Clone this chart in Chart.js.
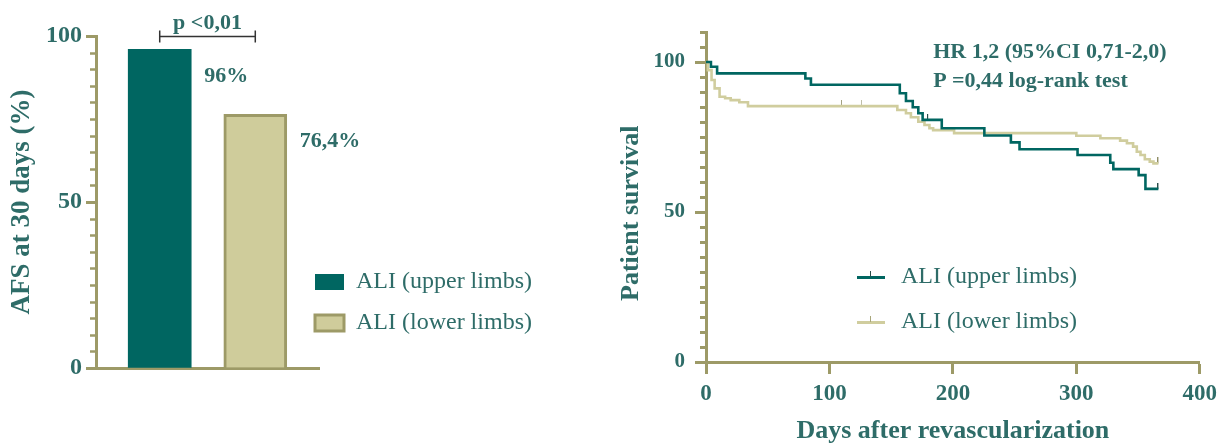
<!DOCTYPE html>
<html><head><meta charset="utf-8">
<script src="https://cdn.jsdelivr.net/npm/chart.js@4.4.1/dist/chart.umd.min.js"></script>
<style>
html,body{margin:0;padding:0;background:#fff;width:1223px;height:444px;overflow:hidden}
#left{position:absolute;left:0;top:0}
#right{position:absolute;left:600px;top:0}
</style></head><body>
<canvas id="left" width="600" height="444"></canvas>
<canvas id="right" width="623" height="444"></canvas>
<script>
// ---------- data ----------
const categories = ['ALI (upper limbs)', 'ALI (lower limbs)'];
const afsValues = [96, 76.4];
const afsLabels = ['96%', '76,4%'];
const pLabel = 'p <0,01';
const afsTicks = [0, 50, 100];

const upperDays = [0, 4, 9, 80.5, 85, 157, 162, 167.5, 172, 175.5, 191, 225.5, 247, 254, 301, 327.5, 330, 350.5, 356, 366.5];
const upperSurv = [100, 98.4, 96.2, 94.5, 92.4, 89.6, 87, 84.9, 82.9, 80.7, 77.9, 75.5, 73.2, 70.9, 69, 66.4, 64.3, 62.3, 57.7, 57.7];
const lowerDays = [0, 1.5, 4.5, 7, 11, 15.5, 20, 27, 34, 155, 162, 166, 172, 177, 181, 184, 201, 300, 319.5, 335.5, 341, 346, 349, 352, 355.5, 359.5, 362.5, 366.5];
const lowerSurv = [100, 97.3, 94, 91.2, 88.4, 87.9, 87.3, 86.6, 85.3, 84, 82.9, 81.6, 80.1, 79, 77.9, 77.3, 76.3, 75.4, 74.6, 73.8, 72.9, 71.8, 70.1, 69, 67.6, 66.8, 66.2, 66.2];
const upperCensorDays = [180, 366.5];
const upperCensorSurv = [80.7, 57.7];
const lowerCensorDays = [110, 126, 366.5];
const lowerCensorSurv = [85.3, 85.3, 66.2];
const survivalTicks = [0, 50, 100];
const dayTicks = [0, 100, 200, 300, 400];
const hrText = ['HR 1,2 (95%CI 0,71-2,0)', 'P =0,44 log-rank test'];

// ---------- style ----------
const TEAL = '#006661';
const TEXT = '#2e6c68';
const OLIVE = '#9d9a67';
const LIGHT = '#cfcc9b';
const LIGHTLINE = '#d0cd9e';
const FAM = '"Liberation Serif", "Times New Roman", serif';
Chart.defaults.font.family = FAM;

function makeTick(color) {
  const c = document.createElement('canvas');
  c.width = 2; c.height = 12;
  const g = c.getContext('2d');
  g.fillStyle = color; g.fillRect(0, 0, 1, 6);
  return c;
}
function makeLegendLine(color, tickColor) {
  const c = document.createElement('canvas');
  c.width = 28; c.height = 14;
  const g = c.getContext('2d');
  g.fillStyle = color; g.fillRect(0, 6, 28, 3);
  g.fillStyle = tickColor; g.fillRect(13, 1, 1, 6);
  return c;
}

const minorTicks = {
  id: 'minorTicks',
  afterDraw(chart, args, opts) {
    const s = chart.scales.y, ctx = chart.ctx;
    ctx.save();
    ctx.strokeStyle = OLIVE; ctx.lineWidth = opts.width;
    for (let v = s.min; v <= s.max + 1e-9; v += opts.step) {
      if (Math.abs(v % 50) < 1e-9) continue;
      const y = Math.round(s.getPixelForValue(v)) + 0.5;
      ctx.beginPath(); ctx.moveTo(s.right - opts.length, y); ctx.lineTo(s.right, y); ctx.stroke();
    }
    ctx.restore();
  }
};

const legendPlace = {
  id: 'legendPlace',
  afterLayout(chart, args, opts) {
    const lg = chart.legend; if (!lg) return;
    lg.left = opts.left; lg.top = opts.top;
    lg.right = opts.left + 330; lg.bottom = opts.top + 200;
  }
};

const barNotes = {
  id: 'barNotes',
  afterDatasetsDraw(chart) {
    const ctx = chart.ctx, y = chart.scales.y;
    ctx.save();
    ctx.font = 'bold 22px ' + FAM; ctx.fillStyle = TEXT;
    ctx.textBaseline = 'alphabetic'; ctx.textAlign = 'left';
    chart.data.datasets.forEach((ds, i) => {
      const bar = chart.getDatasetMeta(i).data[0];
      ctx.fillText(afsLabels[i], bar.x + bar.width / 2 + 13, bar.y + 33);
    });
    const b0 = chart.getDatasetMeta(0).data[0], b1 = chart.getDatasetMeta(1).data[0];
    const yb = Math.round(y.getPixelForValue(100)) + 0.5;
    ctx.strokeStyle = '#333'; ctx.lineWidth = 1.5;
    ctx.beginPath();
    ctx.moveTo(b0.x, yb); ctx.lineTo(b1.x, yb);
    ctx.moveTo(b0.x, yb - 6); ctx.lineTo(b0.x, yb + 6);
    ctx.moveTo(b1.x, yb - 6); ctx.lineTo(b1.x, yb + 6);
    ctx.stroke();
    ctx.textAlign = 'center';
    ctx.fillText(pLabel, (b0.x + b1.x) / 2, yb - 8);
    ctx.restore();
  }
};

const hrNote = {
  id: 'hrNote',
  afterDraw(chart) {
    const ctx = chart.ctx, x = chart.scales.x, y = chart.scales.y;
    ctx.save();
    ctx.font = 'bold 22px ' + FAM; ctx.fillStyle = TEXT;
    ctx.textAlign = 'left'; ctx.textBaseline = 'alphabetic';
    const x0 = x.getPixelForValue(184);
    ctx.fillText(hrText[0], x0, y.getPixelForValue(101.3));
    ctx.fillText(hrText[1], x0, y.getPixelForValue(91.7));
    ctx.restore();
  }
};

const slotX = [1, 2.5];

// ---------- left chart ----------
new Chart(document.getElementById('left'), {
  type: 'bar',
  data: {
    datasets: [
      { label: categories[0], data: [{ x: slotX[0], y: afsValues[0] }], backgroundColor: TEAL, borderColor: TEAL, borderWidth: 0, barThickness: 63 },
      { label: categories[1], data: [{ x: slotX[1], y: afsValues[1] }], backgroundColor: LIGHT, borderColor: OLIVE, borderWidth: 3, barThickness: 63 }
    ]
  },
  options: {
    responsive: false, animation: false, events: [],
    layout: { padding: { left: 0, top: 36, right: 281, bottom: 0 } },
    scales: {
      x: {
        type: 'linear', min: 0, max: 3.5, stacked: true, offset: false,
        grid: { display: false, offset: false },
        border: { display: true, color: OLIVE, width: 3 },
        ticks: { display: false },
        afterFit: s => { s.height = 76; }
      },
      y: {
        type: 'linear', min: 0, max: 100,
        afterBuildTicks: s => { s.ticks = afsTicks.map(v => ({ value: v })); },
        grid: { display: true, drawOnChartArea: false, drawTicks: true, tickLength: 10, tickWidth: 3, tickColor: OLIVE, color: OLIVE },
        border: { display: true, color: OLIVE, width: 3 },
        ticks: { color: TEXT, padding: 4, font: { size: 24, weight: 'bold' } },
        title: { display: true, text: 'AFS at 30 days (%)', color: TEXT, font: { size: 27, weight: 'bold', lineHeight: 1 }, padding: { top: 9, bottom: 0 } },
        afterFit: s => { s.width = 96; }
      }
    },
    plugins: {
      tooltip: { enabled: false },
      legend: {
        position: 'chartArea', align: 'start',
        labels: { boxWidth: 29, boxHeight: 16, padding: 17, color: TEXT, font: { size: 24 } }
      },
      legendPlace: { left: 298, top: 253 },
      minorTicks: { step: 5, length: 6, width: 2.5 }
    }
  },
  plugins: [legendPlace, minorTicks, barNotes]
});

// ---------- right chart ----------
const toXY = (d, s) => d.map((v, i) => ({ x: v, y: s[i] }));
new Chart(document.getElementById('right'), {
  type: 'line',
  data: {
    datasets: [
      { label: categories[0], data: toXY(upperDays, upperSurv), stepped: true, borderColor: TEAL, borderWidth: 2.6, pointRadius: 0, pointHoverRadius: 0, pointStyle: makeLegendLine(TEAL, '#2b4f4c'), fill: false, borderJoinStyle: 'miter' },
      { label: categories[1], data: toXY(lowerDays, lowerSurv), stepped: true, borderColor: LIGHTLINE, borderWidth: 2.6, pointRadius: 0, pointHoverRadius: 0, pointStyle: makeLegendLine(LIGHTLINE, '#a8a67a'), fill: false, borderJoinStyle: 'miter' },
      { type: 'scatter', label: 'upper censored', data: toXY(upperCensorDays, upperCensorSurv), pointStyle: makeTick('#2b4f4c'), pointRadius: 4, borderWidth: 0 },
      { type: 'scatter', label: 'lower censored', data: toXY(lowerCensorDays, lowerCensorSurv), pointStyle: makeTick('#8f8d66'), pointRadius: 4, borderWidth: 0 }
    ]
  },
  options: {
    responsive: false, animation: false, events: [],
    layout: { padding: { left: 0, top: 32, right: 18.5, bottom: 0 } },
    scales: {
      x: {
        type: 'linear', min: 0, max: 400,
        afterBuildTicks: s => { s.ticks = dayTicks.map(v => ({ value: v })); },
        grid: { display: true, drawOnChartArea: false, drawTicks: true, tickLength: 12, tickWidth: 3, tickColor: OLIVE, color: OLIVE },
        border: { display: true, color: OLIVE, width: 3 },
        ticks: { color: TEXT, padding: 6, maxRotation: 0, autoSkip: false, font: { size: 23, weight: 'bold', lineHeight: 1.2 } },
        title: { display: true, text: 'Days after revascularization', color: TEXT, font: { size: 26, weight: 'bold', lineHeight: 1 }, padding: { top: 0, bottom: 0 } },
        afterFit: s => { s.height = 82; }
      },
      y: {
        type: 'linear', min: 0, max: 110,
        afterBuildTicks: s => { s.ticks = survivalTicks.map(v => ({ value: v })); },
        grid: { display: true, drawOnChartArea: false, drawTicks: true, tickLength: 11, tickWidth: 3, tickColor: OLIVE, color: OLIVE },
        border: { display: true, color: OLIVE, width: 3 },
        ticks: { color: TEXT, padding: 10, font: { size: 21, weight: 'bold' } },
        title: { display: true, text: 'Patient survival     ', color: TEXT, font: { size: 26, weight: 'bold', lineHeight: 1 }, padding: { top: 18, bottom: 0 } },
        afterFit: s => { s.width = 106; }
      }
    },
    plugins: {
      tooltip: { enabled: false },
      legend: {
        position: 'chartArea', align: 'start',
        labels: { usePointStyle: true, pointStyleWidth: 36, padding: 21, color: TEXT, font: { size: 24 }, filter: item => item.datasetIndex < 2 }
      },
      legendPlace: { left: 232, top: 244 },
      minorTicks: { step: 5, length: 6, width: 3 }
    }
  },
  plugins: [legendPlace, minorTicks, hrNote]
});
</script>
</body></html>
